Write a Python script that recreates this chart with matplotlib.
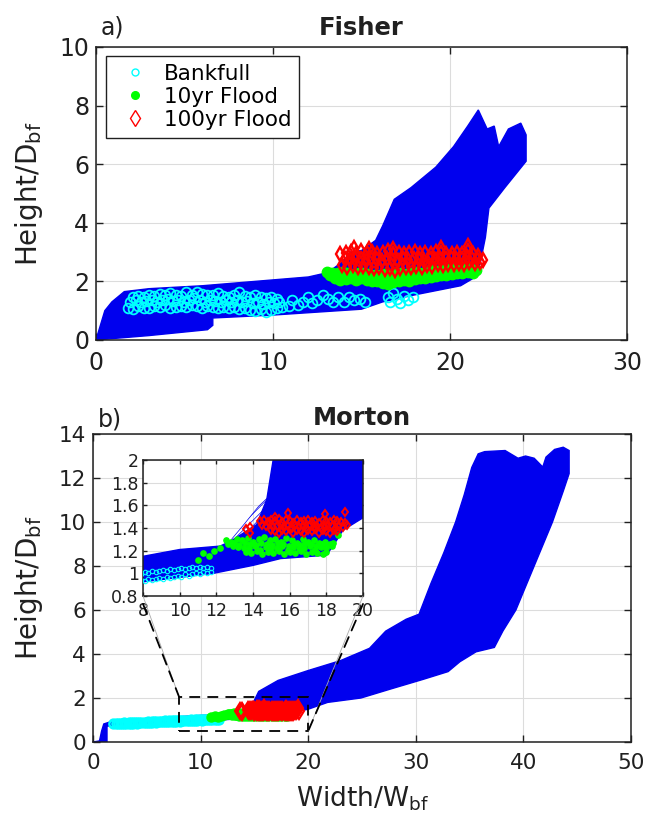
import matplotlib
matplotlib.use('Agg')
import matplotlib.pyplot as plt
from matplotlib.patches import Polygon, Rectangle, ConnectionPatch

plt.rcParams['font.family'] = ['DejaVu Sans']
plt.rcParams['mathtext.default'] = 'regular'
plt.rcParams['hatch.linewidth'] = 0.5

BLUE = '#0000ee'
CYAN = '#00ffff'
GREEN = '#00ff00'
RED = '#ff0000'
INK = '#202020'

# ---- Fisher: outline of the bundle of cross-section profiles ----
fisher_env_x = [0, 0.2, 0.5, 0.9, 1.6, 3, 6, 10, 12, 13.1, 14.0, 14.35, 15.0, 15.8, 16.2,
                16.85, 17.8, 19.2, 20.2, 21.0, 21.6, 22.1, 22.5, 22.75, 23.3, 24.0, 24.3,
                24.3, 23.1, 22.2, 22.0, 21.7, 21.3, 20.6, 18.1, 16.2, 15.0, 10, 6.6, 6.6,
                6.3, 3, 0]
fisher_env_y = [0, 0.4, 1.0, 1.3, 1.65, 1.75, 1.85, 2.05, 2.15, 2.3, 2.7, 3.0, 3.05, 3.4, 3.9,
                4.8, 5.2, 5.9, 6.6, 7.3, 7.85, 7.2, 7.3, 6.6, 7.2, 7.4, 7.0,
                6.1, 5.2, 4.5, 3.5, 2.6, 2.1, 1.85, 1.55, 1.3, 1.05, 0.85, 0.75, 0.5,
                0.35, 0.15, 0]

# Fisher bankfull (cyan circles): three rows of the dense band, then the sparse tail
fisher_bf_x = [1.8, 2.1, 2.4, 2.7, 3.0, 3.3, 3.6, 3.9, 4.2, 4.5, 4.8, 5.1, 5.4, 5.7, 6.0,
               6.3, 6.6, 6.9, 7.2, 7.5, 7.8, 8.1, 8.4, 8.7, 9.0, 9.3, 9.6, 9.9, 10.2, 10.5,
               1.95, 2.25, 2.55, 2.85, 3.15, 3.45, 3.75, 4.05, 4.35, 4.65, 4.95, 5.25, 5.55,
               5.85, 6.15, 6.45, 6.75, 7.05, 7.35, 7.65, 7.95, 8.25, 8.55, 8.85, 9.15, 9.45,
               9.75, 10.05, 10.35,
               2.1, 2.4, 2.7, 3.0, 3.3, 3.6, 3.9, 4.2, 4.5, 4.8, 5.1, 5.4, 5.7, 6.0, 6.3,
               6.6, 6.9, 7.2, 7.5, 7.8, 8.1, 8.4, 8.7, 9.0, 9.3, 9.6, 9.9, 10.2,
               10.9, 11.1, 11.4, 11.7, 12.0, 12.2, 12.5, 12.8, 13.1, 13.4, 13.7, 14.0, 14.3,
               14.6, 14.9, 15.2, 16.5, 16.6, 16.8, 17.0, 17.2, 17.4, 17.6, 17.9]
fisher_bf_y = [1.10, 1.05, 1.15, 1.10, 1.08, 1.15, 1.12, 1.18, 1.10, 1.14, 1.16, 1.12, 1.18,
               1.15, 1.10, 1.16, 1.12, 1.08, 1.14, 1.10, 1.12, 1.06, 1.10, 1.02, 0.98, 1.05,
               0.95, 1.02, 1.08, 1.12,
               1.30, 1.35, 1.28, 1.32, 1.38, 1.30, 1.35, 1.40, 1.32, 1.36, 1.30, 1.38, 1.42,
               1.35, 1.30, 1.38, 1.33, 1.28, 1.35, 1.30, 1.36, 1.28, 1.32, 1.25, 1.30, 1.22,
               1.28, 1.25, 1.30,
               1.45, 1.50, 1.48, 1.55, 1.50, 1.58, 1.52, 1.60, 1.55, 1.50, 1.62, 1.55, 1.65,
               1.58, 1.52, 1.55, 1.60, 1.50, 1.48, 1.55, 1.62, 1.50, 1.45, 1.52, 1.48, 1.42,
               1.45, 1.40,
               1.15, 1.35, 1.20, 1.30, 1.45, 1.25, 1.35, 1.55, 1.40, 1.30, 1.45, 1.30, 1.45,
               1.35, 1.40, 1.30, 1.45, 1.30, 1.60, 1.40, 1.25, 1.50, 1.35, 1.45]

# Fisher 10yr flood (green dots)
fisher_q10_x = [13.2, 13.5, 13.8, 14.1, 14.4, 14.7, 15.0, 15.3, 15.6, 15.9, 16.2, 16.5, 16.8,
                17.1, 17.4, 17.7, 18.0, 18.3, 18.6, 18.9, 19.2, 19.5, 19.8, 20.1, 20.4, 20.7,
                21.0, 21.3,
                13.05, 13.35, 13.65, 13.95, 14.25, 14.55, 14.85, 15.15, 15.45, 15.75, 16.05,
                16.35, 16.65, 16.95, 17.25, 17.55, 17.85, 18.15, 18.45, 18.75, 19.05, 19.35,
                19.65, 19.95, 20.25, 20.55, 20.85, 21.15, 21.45]
fisher_q10_y = [2.20, 2.10, 2.05, 2.08, 2.12, 2.05, 2.10, 2.06, 2.02, 2.00, 1.95, 1.92, 1.98,
                2.02, 2.05, 2.00, 2.08, 2.10, 2.12, 2.15, 2.18, 2.20, 2.22, 2.25, 2.28, 2.30,
                2.32, 2.28,
                2.32, 2.30, 2.28, 2.32, 2.30, 2.26, 2.30, 2.28, 2.25, 2.22, 2.20, 2.24, 2.22,
                2.26, 2.28, 2.24, 2.30, 2.32, 2.30, 2.35, 2.38, 2.36, 2.40, 2.42, 2.45, 2.48,
                2.50, 2.45, 2.40]

# Fisher 100yr flood (red diamonds)
fisher_q100_x = [13.9, 14.2, 14.5, 14.8, 15.1, 15.4, 15.7, 16.0, 16.3, 16.6, 16.9, 17.2, 17.5,
                 17.8, 18.1, 18.4, 18.7, 19.0, 19.3, 19.6, 19.9, 20.2, 20.5, 20.8, 21.1, 21.4,
                 21.7,
                 14.05, 14.35, 14.65, 14.95, 15.25, 15.55, 15.85, 16.15, 16.45, 16.75, 17.05,
                 17.35, 17.65, 17.95, 18.25, 18.55, 18.85, 19.15, 19.45, 19.75, 20.05, 20.35,
                 20.65, 20.95, 21.25, 21.55, 21.85,
                 13.8, 14.1, 14.4, 14.7, 15.0, 15.3, 15.6, 15.9, 16.2, 16.5, 16.8, 17.1, 17.4,
                 17.7, 18.0, 18.3, 18.6, 18.9, 19.2, 19.5, 19.8, 20.1, 20.4, 20.7, 21.0, 21.3,
                 21.6,
                 14.6, 15.4, 16.8, 19.5, 21.0]
fisher_q100_y = [2.55, 2.50, 2.55, 2.48, 2.52, 2.50, 2.45, 2.50, 2.42, 2.45, 2.40, 2.45, 2.48,
                 2.50, 2.52, 2.50, 2.55, 2.52, 2.58, 2.55, 2.60, 2.58, 2.62, 2.60, 2.65, 2.62,
                 2.65,
                 2.75, 2.72, 2.78, 2.75, 2.70, 2.78, 2.74, 2.70, 2.76, 2.72, 2.68, 2.75, 2.72,
                 2.78, 2.74, 2.70, 2.76, 2.73, 2.78, 2.75, 2.80, 2.76, 2.78, 2.82, 2.78, 2.75,
                 2.72,
                 2.92, 2.98, 3.00, 2.95, 3.02, 2.96, 3.00, 2.94, 2.98, 3.02, 2.95, 2.98, 2.92,
                 2.96, 3.00, 2.94, 2.98, 2.95, 3.00, 2.96, 2.92, 2.95, 2.98, 2.94, 3.05, 2.92,
                 2.88,
                 3.15, 3.12, 3.10, 3.15, 3.20]

# ---- Morton: outline of the bundle of cross-section profiles ----
morton_env_x = [0, 0.6, 0.8, 1.0, 1.5, 2, 5, 8, 10, 12.2, 12.75, 14.2, 14.75, 15.1, 15.4, 17.2,
                20, 23, 25.7, 27.2, 29.1, 30.3, 31.4, 32.6, 33.7, 34.5, 35.2, 35.8, 36.4, 38.3,
                39.5, 40.2, 41, 41.8, 42.1, 42.9, 43.7, 44.25,
                44.25, 43.7, 42.7, 41, 39.3, 38.1, 37.3, 35.6, 34.1, 33, 30.7, 27.6, 24.9,
                21.8, 20, 18.9, 18.4, 18, 15.5, 14, 11.84, 8, 5, 2, 1.3, 1.3, 0]
morton_env_y = [0, 0.05, 0.5, 0.82, 0.9, 0.93, 1.05, 1.15, 1.21, 1.24, 1.28, 1.43, 1.65, 2.0, 2.3,
                2.8, 3.25, 3.7, 4.26, 5.04, 5.58, 5.81, 7.2, 8.6, 10.0, 11.24, 12.48, 13.1,
                13.2, 13.25, 12.9, 13.0, 12.9, 12.5, 12.95, 13.3, 13.4, 13.25,
                12.2, 11.4, 10.0, 8.0, 6.0, 5.05, 4.3, 4.1, 3.65, 3.2, 2.85, 2.4, 2.0,
                1.8, 1.49, 1.38, 1.25, 1.16, 1.13, 1.07, 1.0, 0.925, 0.85, 0.76, 0.72, 0, 0]

# thin profiles sticking out left of the bundle (seen in the inset)
morton_fringe_x = [12.75, 13.5, 14.3, 14.75, 14.8, 14.3, 13.6, 13.0]
morton_fringe_y = [1.285, 1.43, 1.59, 1.66, 1.60, 1.47, 1.35, 1.29]

# Morton bankfull (cyan circles), two rows
morton_bf_x = [1.9, 2.1, 2.3, 2.5, 2.7, 2.9, 3.1, 3.3, 3.5, 3.7, 3.9, 4.1, 4.3, 4.5, 4.7, 4.9,
               5.1, 5.3, 5.5, 5.7, 5.9, 6.1, 6.3, 6.5, 6.7, 6.9, 7.1, 7.3, 7.5, 7.7, 7.9, 8.1,
               8.3, 8.5, 8.7, 8.9, 9.1, 9.3, 9.5, 9.7, 9.9, 10.1, 10.3, 10.5, 10.7, 10.9,
               11.1, 11.3, 11.5, 11.7]
morton_bf_lo = [0.80, 0.81, 0.80, 0.82, 0.81, 0.83, 0.82, 0.83, 0.84, 0.83, 0.85, 0.84, 0.86,
                0.85, 0.87, 0.86, 0.87, 0.88, 0.87, 0.89, 0.88, 0.90, 0.89, 0.91, 0.90, 0.92,
                0.91, 0.93, 0.92, 0.93, 0.94, 0.93, 0.95, 0.94, 0.95, 0.96, 0.95, 0.97, 0.96,
                0.97, 0.98, 0.97, 0.99, 0.98, 0.99, 1.00, 0.99, 1.01, 1.00, 1.01]
morton_bf_hi = [0.87, 0.86, 0.88, 0.87, 0.88, 0.89, 0.88, 0.90, 0.89, 0.91, 0.90, 0.92, 0.91,
                0.93, 0.92, 0.93, 0.94, 0.93, 0.95, 0.94, 0.96, 0.95, 0.97, 0.96, 0.98, 0.97,
                0.98, 0.99, 0.98, 1.00, 0.99, 1.01, 1.00, 1.02, 1.01, 1.02, 1.03, 1.02, 1.04,
                1.03, 1.04, 1.05, 1.04, 1.05, 1.06, 1.05, 1.06, 1.05, 1.06, 1.05]

# Morton 10yr flood (green dots)
morton_q10_x = [11.0, 11.3, 11.6, 11.9, 12.2,
                12.5, 12.8, 13.1, 13.4, 13.7, 14.0, 14.3, 14.6, 14.9, 15.2, 15.5, 15.8, 16.1,
                16.4, 16.7, 17.0, 17.3, 17.6, 17.9, 18.2, 18.65,
                12.65, 12.95, 13.25, 13.55, 13.85, 14.15, 14.45, 14.75, 15.05, 15.35, 15.65,
                15.95, 16.25, 16.55, 16.85, 17.15, 17.45, 17.75, 18.05, 18.35,
                12.9, 13.2, 13.5, 13.8, 14.1, 14.4, 14.7, 15.0, 15.3, 15.6, 15.9, 16.2, 16.5,
                16.8, 17.1, 17.4, 17.7, 18.0, 18.3,
                13.6, 13.9, 14.2, 14.5, 14.8, 15.1, 15.4, 15.7, 16.0, 16.3, 16.6, 16.9, 17.2,
                17.5, 17.8, 18.0]
morton_q10_y = [1.12, 1.18, 1.15, 1.20, 1.22,
                1.29, 1.28, 1.30, 1.29, 1.31, 1.28, 1.30, 1.32, 1.29, 1.30, 1.28, 1.31, 1.29,
                1.27, 1.30, 1.28, 1.29, 1.27, 1.28, 1.26, 1.34,
                1.26, 1.27, 1.25, 1.27, 1.26, 1.25, 1.27, 1.26, 1.25, 1.27, 1.26, 1.24, 1.26,
                1.25, 1.27, 1.26, 1.24, 1.26, 1.25, 1.27,
                1.24, 1.23, 1.22, 1.22, 1.24, 1.21, 1.23, 1.22, 1.22, 1.24, 1.21, 1.23, 1.22,
                1.22, 1.24, 1.21, 1.23, 1.22, 1.24,
                1.19, 1.18, 1.20, 1.17, 1.19, 1.18, 1.20, 1.17, 1.19, 1.18, 1.20, 1.17, 1.19,
                1.18, 1.17, 1.19]

# Morton 100yr flood (red diamonds)
morton_q100_x = [13.62, 13.84, 13.84, 15.2, 15.93, 17.93, 19.02,
                 14.4, 14.6, 14.8, 15.0, 15.2, 15.4, 15.6, 15.8, 16.0, 16.2, 16.4, 16.6, 16.8,
                 17.0, 17.2, 17.4, 17.6, 17.8, 18.0, 18.2, 18.4, 18.6, 18.8, 19.0,
                 14.5, 14.7, 14.9, 15.1, 15.3, 15.5, 15.7, 15.9, 16.1, 16.3, 16.5, 16.7, 16.9,
                 17.1, 17.3, 17.5, 17.7, 17.9, 18.1, 18.3, 18.5, 18.7, 18.9, 19.1,
                 15.0, 15.2, 15.4, 15.6, 15.8, 16.0, 16.2, 16.4, 16.6, 16.8, 17.0, 17.2, 17.4,
                 17.6, 17.8, 18.0, 18.2, 18.4, 18.6]
morton_q100_y = [1.39, 1.41, 1.36, 1.50, 1.53, 1.52, 1.54,
                 1.46, 1.47, 1.45, 1.47, 1.46, 1.48, 1.45, 1.47, 1.46, 1.44, 1.47, 1.45, 1.46,
                 1.47, 1.45, 1.46, 1.44, 1.47, 1.46, 1.45, 1.47, 1.46, 1.45, 1.44,
                 1.43, 1.42, 1.44, 1.41, 1.42, 1.43, 1.41, 1.42, 1.40, 1.43, 1.41, 1.42, 1.40,
                 1.43, 1.41, 1.42, 1.40, 1.41, 1.43, 1.42, 1.40, 1.42, 1.41, 1.43,
                 1.38, 1.37, 1.36, 1.38, 1.37, 1.39, 1.36, 1.38, 1.37, 1.36, 1.38, 1.37, 1.39,
                 1.36, 1.38, 1.37, 1.36, 1.38, 1.37]

zoom_box_x = [8, 20]
zoom_box_y = [0.5, 2.05]


def style_axes(ax, fs, xticks, yticks, xlim, ylim, ticklen=5):
    ax.set_xlim(xlim)
    ax.set_ylim(ylim)
    ax.set_xticks(xticks)
    ax.set_yticks(yticks)
    ax.grid(True, color='#dcdcdc', lw=0.8)
    ax.set_axisbelow(True)
    ax.tick_params(direction='in', top=True, right=True, length=ticklen, width=1,
                   color=INK, labelcolor=INK, labelsize=fs)
    ax.tick_params(axis='x', pad=8)
    ax.tick_params(axis='y', pad=5)
    for s in ax.spines.values():
        s.set_color(INK)
        s.set_linewidth(1.1)


fig = plt.figure(figsize=(6.45, 8.18), dpi=100)
ax1 = fig.add_axes([0.1488, 0.5844, 0.8233, 0.3582])
ax2 = fig.add_axes([0.1442, 0.0929, 0.8341, 0.3765])
axin = fig.add_axes([0.2217, 0.2714, 0.3411, 0.1663])

# ---------------- a) Fisher ----------------
ax1.fill(fisher_env_x, fisher_env_y, color=BLUE, lw=1, zorder=2)
ax1.plot(fisher_bf_x, fisher_bf_y, 'o', mfc='none', mec=CYAN, ms=7, mew=1.3,
         zorder=3, label='Bankfull')
ax1.plot(fisher_q10_x, fisher_q10_y, 'o', mfc=GREEN, mec=GREEN, ms=7.5,
         zorder=4, label='10yr Flood')
ax1.plot(fisher_q100_x, fisher_q100_y, 'd', mfc='none', mec=RED, ms=7.5, mew=1.7,
         zorder=5, label='100yr Flood')
style_axes(ax1, 17, [0, 10, 20, 30], [0, 2, 4, 6, 8, 10], (0, 30), (0, 10))
ax1.set_ylabel('Height/D$_{bf}$', fontsize=20, labelpad=10, color=INK)
ax1.set_title('Fisher', fontsize=17.5, fontweight='bold', pad=8.5, color=INK)
ax1.text(0.008, 1.041, 'a)', transform=ax1.transAxes, fontsize=17, va='baseline', color=INK)

leg = ax1.legend(loc='upper left', bbox_to_anchor=(0.019, 0.969), borderaxespad=0,
                 fontsize=15.5, fancybox=False, framealpha=1, edgecolor=INK,
                 borderpad=0.35, handlelength=2.0, handletextpad=0.35, labelspacing=0.15)
leg.get_frame().set_linewidth(1.0)
for hnd, size in zip(leg.legend_handles, [5, 5.5, 8]):
    hnd.set_markersize(size)
    hnd.set_markeredgewidth(1.0)

# ---------------- b) Morton ----------------
ax2.fill(morton_env_x, morton_env_y, color=BLUE, lw=1, zorder=2)
ax2.plot(morton_bf_x, morton_bf_lo, 'o', mfc='none', mec=CYAN, ms=6, mew=1.4, zorder=3)
ax2.plot(morton_bf_x, morton_bf_hi, 'o', mfc='none', mec=CYAN, ms=6, mew=1.4, zorder=3)
ax2.plot(morton_q10_x, morton_q10_y, 'o', mfc=GREEN, mec=GREEN, ms=6.5, zorder=4)
ax2.plot(morton_q100_x, morton_q100_y, 'd', mfc='none', mec=RED, ms=8, mew=1.6, zorder=5)
style_axes(ax2, 15.5, [0, 10, 20, 30, 40, 50], list(range(0, 15, 2)), (0, 50), (0, 14))
ax2.set_ylabel('Height/D$_{bf}$', fontsize=20, labelpad=10, color=INK)
ax2.set_xlabel('Width/W$_{bf}$', fontsize=19, labelpad=8, color=INK)
ax2.set_title('Morton', fontsize=17.5, fontweight='bold', pad=6.5, color=INK)
ax2.text(0.009, 1.026, 'b)', transform=ax2.transAxes, fontsize=17, va='baseline', color=INK)

dash = (0, (6, 4))
ax2.add_patch(Rectangle((zoom_box_x[0], zoom_box_y[0]), zoom_box_x[1] - zoom_box_x[0],
                        zoom_box_y[1] - zoom_box_y[0], fill=False, ec='k', lw=1.3,
                        ls=dash, zorder=6))

# ---------------- inset ----------------
axin.fill(morton_env_x, morton_env_y, color=BLUE, lw=1, zorder=2)
axin.add_patch(Polygon(list(zip(morton_fringe_x, morton_fringe_y)), closed=True,
                       facecolor='none', edgecolor=BLUE, hatch='/////', lw=0.5, zorder=2))
axin.plot(morton_bf_x, morton_bf_lo, 'o', mfc='none', mec=CYAN, ms=3.2, mew=0.8, zorder=3)
axin.plot(morton_bf_x, morton_bf_hi, 'o', mfc='none', mec=CYAN, ms=3.2, mew=0.8, zorder=3)
axin.plot(morton_q10_x, morton_q10_y, 'o', mfc=GREEN, mec=GREEN, ms=3.8, zorder=4)
axin.plot(morton_q100_x, morton_q100_y, 'd', mfc='none', mec=RED, ms=4.5, mew=1.4, zorder=5)
style_axes(axin, 12.5, list(range(8, 21, 2)), [0.8, 1, 1.2, 1.4, 1.6, 1.8, 2],
           (8, 20), (0.8, 2), ticklen=3)
axin.set_yticklabels(['0.8', '1', '1.2', '1.4', '1.6', '1.8', '2'])
axin.tick_params(axis='x', pad=4)
axin.tick_params(axis='y', pad=3)

# zoom connector lines
for (xa, ya), (xb, yb) in [((8, 0.8), (8, zoom_box_y[1])), ((20, 0.8), (20, zoom_box_y[0]))]:
    fig.add_artist(ConnectionPatch(xyA=(xa, ya), coordsA=axin.transData,
                                   xyB=(xb, yb), coordsB=ax2.transData,
                                   color='#aaaaaa', lw=0.6, zorder=6))
    fig.add_artist(ConnectionPatch(xyA=(xa, ya - 0.07), coordsA=axin.transData,
                                   xyB=(xb, yb), coordsB=ax2.transData,
                                   color='k', lw=1.3, ls=dash, zorder=6))

fig.savefig('out.png', dpi=100)
